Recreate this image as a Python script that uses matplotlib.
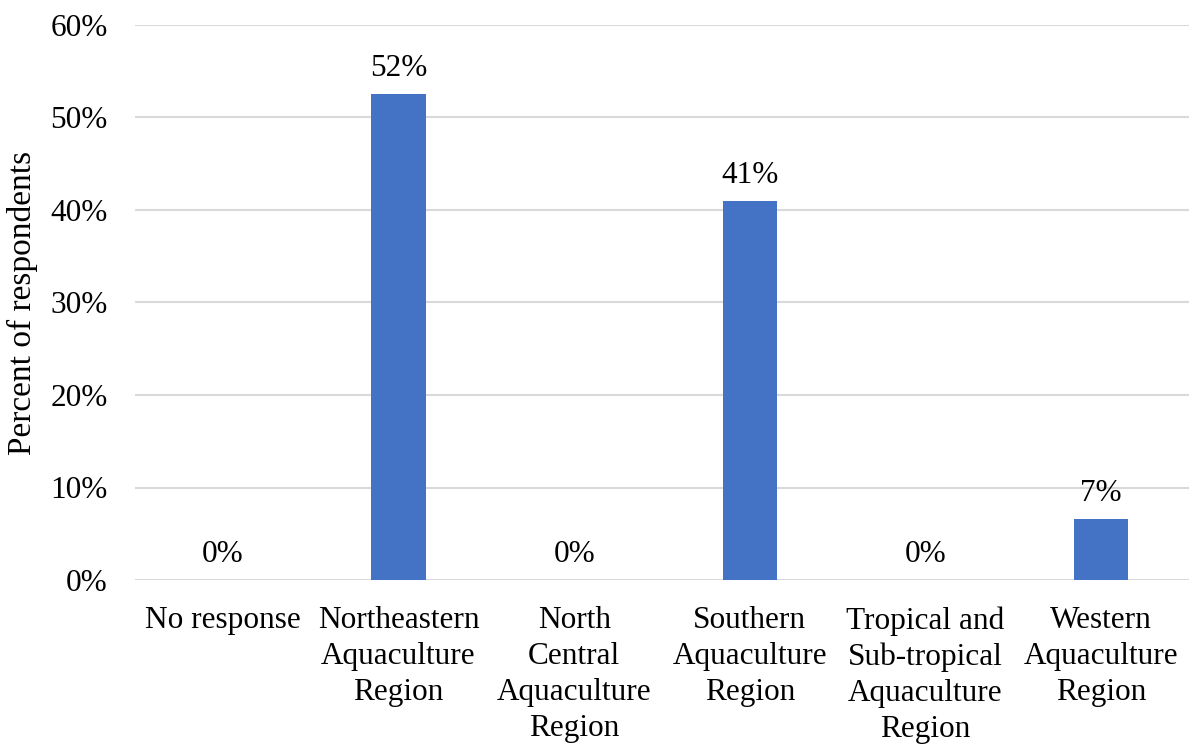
import matplotlib
matplotlib.use("Agg")
import matplotlib.pyplot as plt
from matplotlib.ticker import FuncFormatter

categories = ["No response", "Northeastern\nAquaculture\nRegion", "North\nCentral\nAquaculture\nRegion",
              "Southern\nAquaculture\nRegion", "Tropical and\nSub-tropical\nAquaculture\nRegion",
              "Western\nAquaculture\nRegion"]
values = [0.0, 52.5, 0.0, 41.0, 0.0, 6.6]
labels = ["0%", "52%", "0%", "41%", "0%", "7%"]
yticks = [0, 10, 20, 30, 40, 50, 60]

plt.rcParams['font.family'] = ['Liberation Serif', 'DejaVu Serif']

FS = 22.5
W, H = 1194, 746
fig = plt.figure(figsize=(W / 100, H / 100), dpi=100)
ax = fig.add_axes([135 / W, 1 - 580 / H, (1189 - 135) / W, (580 - 25) / H])

x = list(range(len(categories)))
ax.bar(x, values, width=0.31, color="#4472C4", zorder=3)
for xi, v, lab in zip(x, values, labels):
    ax.annotate(lab, (xi, v), xytext=(0, 13), textcoords="offset points",
                ha="center", va="baseline", fontsize=FS, color="black")

ax.set_xlim(-0.5, len(categories) - 0.5)
ax.set_ylim(0, 60)
ax.set_yticks(yticks)
ax.yaxis.set_major_formatter(FuncFormatter(lambda v, p: f"{int(v)}%"))
ax.set_xticks(x)
ax.set_xticklabels(categories, fontsize=FS, linespacing=1.31)
ax.tick_params(axis="y", length=0, pad=19.5, labelsize=FS)
ax.tick_params(axis="x", length=0, pad=19)
ax.grid(axis="y", color="#D9D9D9", linewidth=1.5, zorder=0)
for s in ax.spines.values():
    s.set_visible(False)
ax.set_ylabel("Percent of respondents", fontsize=24, labelpad=9)

fig.savefig("out.png", dpi=100)
